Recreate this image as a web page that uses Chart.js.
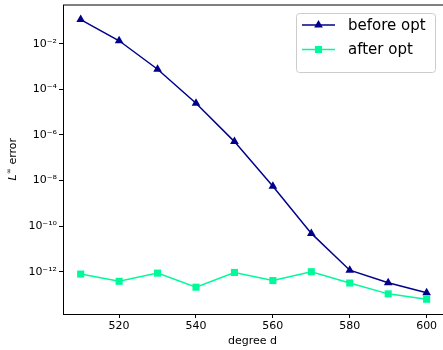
<!DOCTYPE html>
<html>
<head>
<meta charset="utf-8">
<script src="https://cdn.jsdelivr.net/npm/chart.js@4.4.0/dist/chart.umd.min.js"></script>
<style>
  body { margin: 0; background: #fff; overflow: hidden; }
  canvas { display: block; }
</style>
</head>
<body>
<!-- a bit wider than the window: the right spine sits just past the visible edge, as in the original -->
<canvas id="myChart" width="447" height="350"></canvas>
<script>
// degree d on x, L-infinity error on y (log)
var degrees = [510, 520, 530, 540, 550, 560, 570, 580, 590, 600];
var beforeOpt = [1.15e-1, 1.35e-2, 7.6e-4, 2.45e-5, 5.1e-7, 5.6e-9, 4.8e-11, 1.17e-12, 3.3e-13, 1.2e-13];
var afterOpt = [7.9e-13, 3.8e-13, 8.7e-13, 2.1e-13, 9.3e-13, 4.1e-13, 1.0e-12, 3.2e-13, 1.07e-13, 6.2e-14];
var xTicks = [520, 540, 560, 580, 600];
var yTicks = [1e-2, 1e-4, 1e-6, 1e-8, 1e-10, 1e-12];

var sup = {'-': '\u207B', '0': '\u2070', '1': '\u00B9', '2': '\u00B2', '3': '\u00B3', '4': '\u2074',
           '5': '\u2075', '6': '\u2076', '7': '\u2077', '8': '\u2078', '9': '\u2079'};
function powLabel(v) {
  var e = String(Math.round(Math.log10(v)));
  return '10' + e.split('').map(function (c) { return sup[c]; }).join('');
}
function pts(ys) {
  return degrees.map(function (d, i) { return {x: d, y: ys[i]}; });
}

var FONT = 'DejaVu Sans';

// spine on top, y title with superscript, legend box like matplotlib
var extras = {
  id: 'extras',
  afterDraw: function (chart) {
    var ctx = chart.ctx, a = chart.chartArea;
    ctx.save();
    ctx.strokeStyle = '#000';
    ctx.lineWidth = 1;
    ctx.beginPath();
    ctx.moveTo(a.left, a.top);
    ctx.lineTo(chart.width, a.top);
    ctx.stroke();

    // y axis title
    ctx.translate(13, (a.top + a.bottom) / 2);
    ctx.rotate(-Math.PI / 2);
    ctx.fillStyle = '#000';
    ctx.textBaseline = 'middle';
    ctx.font = 'italic 11px ' + FONT;
    var w1 = ctx.measureText('L').width;
    ctx.font = '7px ' + FONT;
    var w2 = ctx.measureText('\u221E').width;
    ctx.font = '11px ' + FONT;
    var w3 = ctx.measureText(' error').width;
    var x0 = -(w1 + w2 + w3) / 2;
    ctx.textAlign = 'left';
    ctx.font = 'italic 11px ' + FONT;
    ctx.fillText('L', x0, 0);
    ctx.font = '7px ' + FONT;
    ctx.fillText('\u221E', x0 + w1 + 0.5, -4);
    ctx.font = '11px ' + FONT;
    ctx.fillText(' error', x0 + w1 + w2 + 0.5, 0);
    ctx.restore();

    // legend
    ctx.save();
    ctx.beginPath();
    ctx.roundRect(296.5, 13.5, 139, 59, 3);
    ctx.fillStyle = 'rgba(255,255,255,0.8)';
    ctx.fill();
    ctx.strokeStyle = '#cccccc';
    ctx.lineWidth = 1;
    ctx.stroke();
    var rows = [25, 49.5];
    chart.data.datasets.forEach(function (ds, i) {
      var y = rows[i];
      ctx.strokeStyle = ds.borderColor;
      ctx.lineWidth = ds.borderWidth;
      ctx.beginPath();
      ctx.moveTo(302, y);
      ctx.lineTo(335, y);
      ctx.stroke();
      ctx.fillStyle = ds.pointBackgroundColor;
      Chart.helpers.drawPoint(ctx, {pointStyle: ds.pointStyle, radius: ds.pointRadius, rotation: 0, borderWidth: 0}, 318.5, y);
      ctx.fillStyle = '#000';
      ctx.font = '15px ' + FONT;
      ctx.textAlign = 'left';
      ctx.textBaseline = 'middle';
      ctx.fillText(ds.label, 348, y + 1);
    });
    ctx.restore();
  }
};

var ctx = document.getElementById('myChart');
var myChart = new Chart(ctx, {
  type: 'line',
  data: {
    datasets: [{
      label: 'before opt',
      data: pts(beforeOpt),
      borderColor: '#00008B',
      backgroundColor: '#00008B',
      pointBackgroundColor: '#00008B',
      pointBorderColor: '#00008B',
      borderWidth: 1.5,
      pointStyle: 'triangle',
      pointRadius: 5,
      pointBorderWidth: 0,
      tension: 0
    }, {
      label: 'after opt',
      data: pts(afterOpt),
      borderColor: '#00FA9A',
      backgroundColor: '#00FA9A',
      pointBackgroundColor: '#00FA9A',
      pointBorderColor: '#00FA9A',
      borderWidth: 1.5,
      pointStyle: 'rect',
      pointRadius: 5,
      pointBorderWidth: 0,
      tension: 0
    }]
  },
  options: {
    responsive: false,
    animation: false,
    layout: { padding: { top: 5, right: 1, left: 0, bottom: 0 } },
    plugins: {
      legend: { display: false },
      tooltip: { enabled: false }
    },
    scales: {
      x: {
        type: 'linear',
        min: 505.4,
        max: 604,
        afterBuildTicks: function (s) { s.ticks = xTicks.map(function (v) { return {value: v}; }); },
        afterFit: function (s) { s.height = 36; s.paddingLeft = 0; s.paddingRight = 0; },
        grid: { drawOnChartArea: false, tickLength: 4, tickColor: '#000' },
        border: { color: '#000', width: 1 },
        ticks: { color: '#000', font: { family: FONT, size: 11 }, padding: 2, maxRotation: 0 },
        title: { display: true, text: 'degree d', color: '#000', font: { family: FONT, size: 11 }, padding: { top: 0, bottom: 2 } }
      },
      y: {
        type: 'logarithmic',
        min: 1.4e-14,
        max: 0.5,
        afterBuildTicks: function (s) { s.ticks = yTicks.map(function (v) { return {value: v}; }); },
        afterFit: function (s) { s.width = 63; s.paddingTop = 0; s.paddingBottom = 0; },
        grid: { drawOnChartArea: false, tickLength: 4, tickColor: '#000' },
        border: { color: '#000', width: 1 },
        ticks: { color: '#000', font: { family: FONT, size: 11 }, padding: 2, callback: function (v) { return powLabel(v); } }
      }
    }
  },
  plugins: [extras]
});
</script>
</body>
</html>
